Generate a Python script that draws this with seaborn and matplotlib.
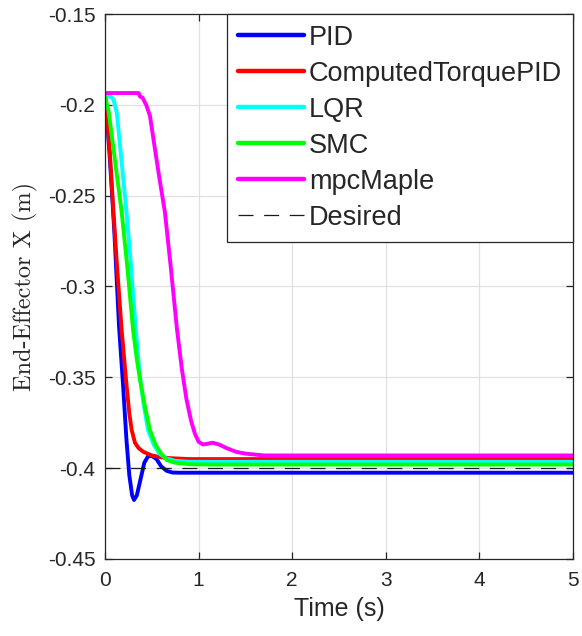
import numpy as np
import pandas as pd
import matplotlib
matplotlib.use("Agg")
import matplotlib.pyplot as plt
import seaborn as sns
from matplotlib.lines import Line2D

# ---- data ----
pid_t = [0, 0.02, 0.05, 0.10, 0.15, 0.19, 0.23, 0.26, 0.29, 0.31, 0.34, 0.38, 0.42, 0.46, 0.50, 0.55, 0.60, 0.66, 0.72, 0.80, 5.0]
pid_y = [-0.195, -0.207, -0.228, -0.270, -0.322, -0.352, -0.385, -0.404, -0.415, -0.4175, -0.415, -0.406, -0.397, -0.3935, -0.3932, -0.395, -0.399, -0.4015, -0.4024, -0.4025, -0.4025]

ct_t = [0, 0.02, 0.05, 0.09, 0.13, 0.178, 0.224, 0.26, 0.285, 0.32, 0.36, 0.41, 0.50, 0.60, 0.70, 0.90, 5.0]
ct_y = [-0.195, -0.205, -0.225, -0.259, -0.290, -0.324, -0.351, -0.370, -0.379, -0.386, -0.389, -0.391, -0.393, -0.394, -0.3945, -0.395, -0.395]

lqr_t = [0, 0.06, 0.09, 0.125, 0.175, 0.23, 0.28, 0.33, 0.37, 0.41, 0.46, 0.52, 0.58, 0.65, 0.75, 0.90, 5.0]
lqr_y = [-0.195, -0.1955, -0.197, -0.204, -0.230, -0.259, -0.290, -0.324, -0.348, -0.364, -0.379, -0.387, -0.392, -0.3945, -0.396, -0.3965, -0.3965]

smc_t = [0, 0.04, 0.10, 0.178, 0.24, 0.30, 0.34, 0.38, 0.43, 0.48, 0.54, 0.60, 0.66, 0.75, 0.90, 1.10, 5.0]
smc_y = [-0.195, -0.204, -0.228, -0.259, -0.290, -0.324, -0.340, -0.353, -0.367, -0.379, -0.387, -0.392, -0.3955, -0.397, -0.3978, -0.398, -0.398]

mpc_t = [0, 0.36, 0.375, 0.40, 0.44, 0.48, 0.53, 0.58, 0.64, 0.70, 0.77, 0.82, 0.87, 0.92, 0.96, 1.00, 1.05, 1.10, 1.15, 1.22, 1.30, 1.40, 1.50, 1.70, 5.0]
mpc_y = [-0.1935, -0.1935, -0.1955, -0.196, -0.200, -0.206, -0.223, -0.240, -0.259, -0.288, -0.324, -0.345, -0.362, -0.374, -0.381, -0.3855, -0.387, -0.3865, -0.386, -0.387, -0.389, -0.391, -0.392, -0.393, -0.393]

des_t = [0, 5.0]
des_y = [-0.4, -0.4]

names = ["PID", "ComputedTorquePID", "LQR", "SMC", "mpcMaple"]
colors = ["#0000ff", "#ff0000", "#00ffff", "#00ff00", "#ff00ff"]

x_ticks = [0, 1, 2, 3, 4, 5]
y_ticks = [-0.45, -0.4, -0.35, -0.3, -0.25, -0.2, -0.15]

frames = []
for n, t, y in zip(names, [pid_t, ct_t, lqr_t, smc_t, mpc_t], [pid_y, ct_y, lqr_y, smc_y, mpc_y]):
    frames.append(pd.DataFrame({"t": t, "y": y, "Controller": n}))
df = pd.concat(frames, ignore_index=True)
des_df = pd.DataFrame({"t": des_t, "y": des_y})

sns.set_theme(style="ticks")
plt.rcParams["font.family"] = ["Liberation Sans", "DejaVu Sans"]

fig = plt.figure(figsize=(5.82, 6.36), dpi=100)
ax = fig.add_axes([105/582, 1 - 559/636, (573 - 105)/582, (559 - 14)/636])

dash = (0, (12, 8.5))
sns.lineplot(data=df, x="t", y="y", hue="Controller", hue_order=names,
             palette=dict(zip(names, colors)), estimator=None, sort=False,
             linewidth=2.8, ax=ax, legend=False)
sns.lineplot(data=des_df, x="t", y="y", color="#1a1a1a", linewidth=0.9,
             linestyle=dash, estimator=None, sort=False, ax=ax)

ax.set_xlim(0, 5)
ax.set_ylim(-0.45, -0.15)
ax.set_xticks(x_ticks)
ax.set_yticks(y_ticks)
ax.set_xticklabels([f"{v:g}" for v in x_ticks])
ax.set_yticklabels([f"{v:g}" for v in y_ticks])
ax.grid(True, color="#e0e0e0", linewidth=0.9)
ax.set_axisbelow(True)
for s in ax.spines.values():
    s.set_visible(True)
    s.set_color("#262626")
    s.set_linewidth(0.9)
ax.tick_params(direction="in", top=True, right=True, length=5, width=0.9,
               color="#262626", labelsize=15, labelcolor="#262626")
ax.tick_params(axis="x", pad=9)
ax.tick_params(axis="y", pad=7)

ax.set_xlabel("Time (s)", fontsize=18, color="#262626", labelpad=5)
ax.set_ylabel("End-Effector X (m)", fontsize=17.5,
              family=["cmr10", "DejaVu Serif"], color="#262626", labelpad=7)

# legend
handles = [Line2D([], [], color=c, linewidth=3.2) for c in colors]
handles.append(Line2D([], [], color="#1a1a1a", linewidth=0.9, linestyle=dash))
leg = ax.legend(handles, names + ["Desired"], loc="upper right", bbox_to_anchor=(1, 1),
                borderaxespad=0, fontsize=19.5, frameon=True, fancybox=False,
                framealpha=1, edgecolor="#262626", handlelength=2.45,
                handletextpad=0.18, labelspacing=0.37, borderpad=0.4)
leg.get_frame().set_linewidth(0.9)

fig.savefig("out.png", dpi=100)
